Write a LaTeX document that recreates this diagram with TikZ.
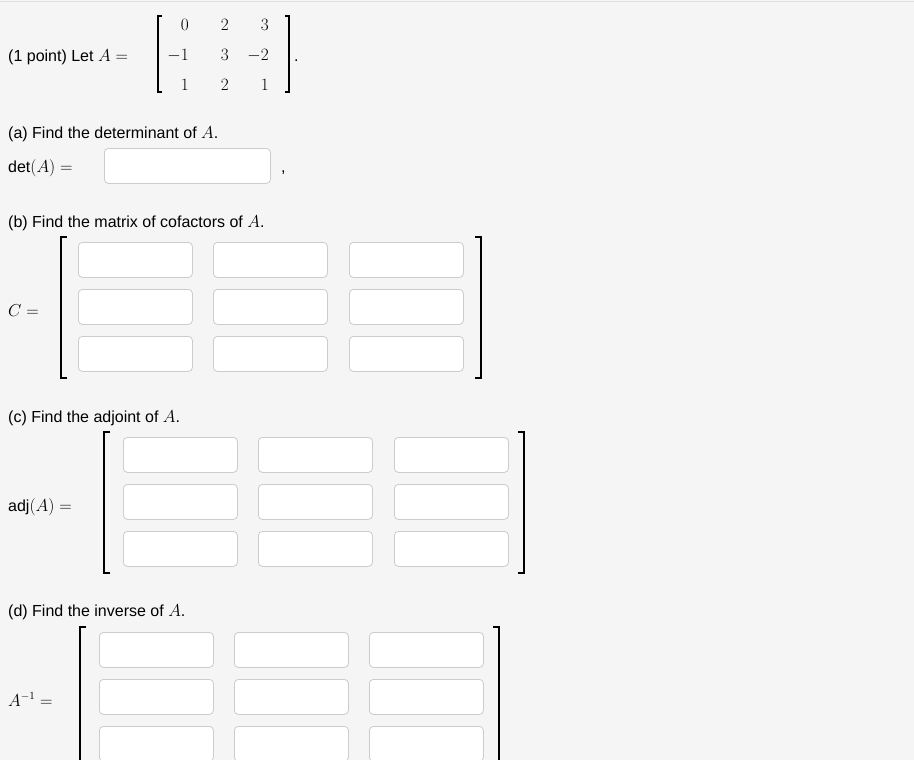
\documentclass[tikz,border=0pt]{standalone}
\usepackage{fontspec}
\setmainfont{Liberation Sans}
\usepackage{amsmath}
\begin{document}
\begin{tikzpicture}[x=1pt,y=-1pt,
  txt/.style={anchor=base west,inner sep=0pt,font=\fontsize{16}{19}\selectfont},
  ent/.style={anchor=base east,inner sep=0pt,font=\fontsize{16}{19}\selectfont},
  ansbox/.style={draw=black!20,fill=white,rounded corners=4pt,line width=0.8pt,minimum width=114pt,minimum height=35pt,inner sep=0pt,anchor=north west},
  brk/.style={line width=1.4pt}]
\useasboundingbox (0,0) rectangle (914,760);
\fill[black!4] (0,0) rectangle (914,760);
\draw[black!12,line width=1pt] (0,2) -- (914,2);
% header
\node[txt] (hd) at (8,62) {(1 point) Let $A=$};
\draw[brk] (162,16) -- (158,16) -- (158,92) -- (162,92);
\draw[brk] (285,16) -- (289,16) -- (289,92) -- (285,92);
\node[ent] (a11) at (189,31) {$0$};
\node[ent] (a12) at (229,31) {$2$};
\node[ent] (a13) at (269,31) {$3$};
\node[ent] (a21) at (189,61) {$-1$};
\node[ent] (a22) at (229,61) {$3$};
\node[ent] (a23) at (269,61) {$-2$};
\node[ent] (a31) at (189,91) {$1$};
\node[ent] (a32) at (229,91) {$2$};
\node[ent] (a33) at (269,91) {$1$};
\node[txt] (dot) at (294,62) {.};
% (a)
\node[txt] (qa) at (8,139) {(a) Find the determinant of $A$.};
\node[txt] (det) at (8,172) {$\det(A)=$};
\node[ansbox,minimum width=166pt] (detbox) at (104,148) {};
\node[txt] (comma) at (281,172) {,};
% (b)
\node[txt] (qb) at (8,227) {(b) Find the matrix of cofactors of $A$.};
\node[txt] (cl) at (8,316) {$C=$};
\draw[brk] (67,237) -- (61,237) -- (61,378) -- (67,378);
\draw[brk] (475,237) -- (481,237) -- (481,378) -- (475,378);
\foreach \r [count=\i] in {242,289,336}
  \foreach \c [count=\j] in {78,213,349}
    \node[ansbox] (c\i\j) at (\c,\r) {};
% (c)
\node[txt] (qc) at (8,422) {(c) Find the adjoint of $A$.};
\node[txt] (adjl) at (8,511) {$\operatorname{adj}(A)=$};
\draw[brk] (110,432) -- (104,432) -- (104,573) -- (110,573);
\draw[brk] (518,432) -- (524,432) -- (524,573) -- (518,573);
\foreach \r [count=\i] in {437,484,531}
  \foreach \c [count=\j] in {123,258,394}
    \node[ansbox] (d\i\j) at (\c,\r) {};
% (d)
\node[txt] (qd) at (8,616) {(d) Find the inverse of $A$.};
\node[txt] (invl) at (8,706) {$A^{-1}=$};
\draw[brk] (86,627) -- (80,627) -- (80,762);
\draw[brk] (493,627) -- (499,627) -- (499,762);
\foreach \r [count=\i] in {632,679,726}
  \foreach \c [count=\j] in {99,234,369}
    \node[ansbox] (e\i\j) at (\c,\r) {};
\end{tikzpicture}
\end{document}
